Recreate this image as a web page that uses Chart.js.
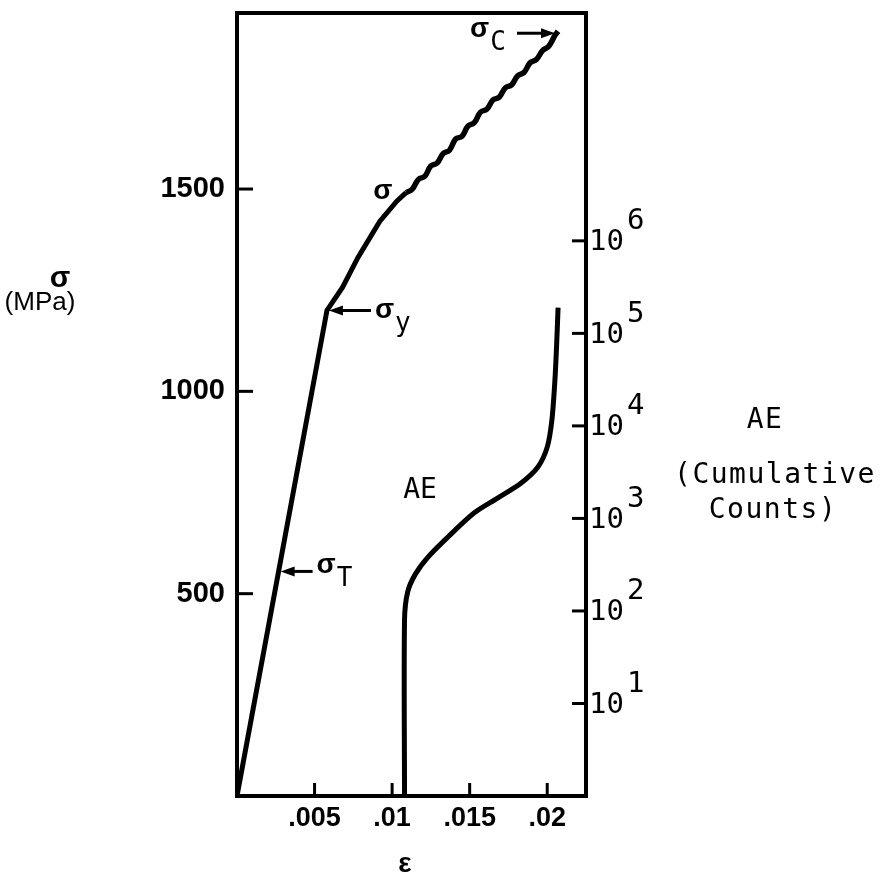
<!DOCTYPE html>
<html>
<head>
<meta charset="utf-8">
<script src="https://cdn.jsdelivr.net/npm/chart.js@4/dist/chart.umd.min.js"></script>
<style>
  html, body { margin: 0; padding: 0; background: #fff; }
</style>
</head>
<body>
<canvas id="chart" width="886" height="881"></canvas>
<script>
// stress-strain curve: elastic line, yield knee, then serrated hardening up to sigma_c
const sigmaStrain = [0, 0.0058, 0.0068, 0.0078, 0.0092, 0.0103, 0.0109, 0.0113, 0.0117, 0.0121,
  0.0125, 0.0129, 0.0133, 0.0137, 0.0141, 0.0145, 0.0149, 0.0153, 0.0157, 0.0161, 0.0165,
  0.0169, 0.0173, 0.0177, 0.0181, 0.0185, 0.0189, 0.0193, 0.0197, 0.0201, 0.0205, 0.0207];
const sigmaStress = [0, 1200, 1257, 1331, 1420, 1470, 1491, 1500, 1524, 1531,
  1557, 1564, 1588, 1596, 1624, 1630, 1656, 1664, 1690, 1697, 1720,
  1727, 1750, 1757, 1780, 1788, 1812, 1820, 1842, 1853, 1880, 1890];
const serrationStart = 6; // index where the wavy part begins

// cumulative acoustic emission counts (log axis)
const aeStrain = [0.0108, 0.0108, 0.0110, 0.0115, 0.0123, 0.0136, 0.0153, 0.0168,
  0.0183, 0.0194, 0.0200, 0.0203, 0.0205, 0.0206, 0.0207];
const aeCounts = [1, 80, 160, 250, 380, 630, 1150, 1660,
  2400, 3600, 5900, 11500, 32000, 71000, 190000];

const strainTicks = [0.005, 0.01, 0.015, 0.02];
const strainLabels = ['.005', '.01', '.015', '.02'];
const stressTicks = [500, 1000, 1500];
const countTicks = [1e1, 1e2, 1e3, 1e4, 1e5, 1e6];
const countExponents = ['1', '2', '3', '4', '5', '6'];

const tickFont = { family: "'Liberation Sans', Arial, sans-serif", weight: 'bold', size: 29 };
const monoFont = "'DejaVu Sans Mono', monospace";

const sigmaPoints = sigmaStrain.map((e, i) => ({ x: e, y: sigmaStress[i] }));

function arrow(ctx, x1, y, x2) {
  // line from x1 to x2 with head at x2
  const dir = x2 > x1 ? 1 : -1;
  ctx.beginPath();
  ctx.moveTo(x1, y);
  ctx.lineTo(x2 - dir * 8, y);
  ctx.lineWidth = 3;
  ctx.stroke();
  ctx.beginPath();
  ctx.moveTo(x2, y);
  ctx.lineTo(x2 - dir * 14, y - 5);
  ctx.lineTo(x2 - dir * 14, y + 5);
  ctx.closePath();
  ctx.fill();
}

const decorations = {
  id: 'decorations',
  afterDraw(chart) {
    const { ctx, chartArea: a, scales } = chart;
    const xs = scales.x, ys = scales.y, ls = scales.ae;
    ctx.save();
    ctx.strokeStyle = '#000';
    ctx.fillStyle = '#000';
    ctx.lineCap = 'butt';

    // frame
    ctx.lineWidth = 4;
    ctx.strokeRect(a.left, a.top, a.right - a.left, a.bottom - a.top);

    // inward tick marks
    ctx.lineWidth = 3;
    stressTicks.forEach(v => {
      const p = ys.getPixelForValue(v);
      ctx.beginPath(); ctx.moveTo(a.left, p); ctx.lineTo(a.left + 16, p); ctx.stroke();
    });
    strainTicks.forEach(v => {
      const p = xs.getPixelForValue(v);
      ctx.beginPath(); ctx.moveTo(p, a.bottom); ctx.lineTo(p, a.bottom - 13); ctx.stroke();
    });
    countTicks.forEach(v => {
      const p = ls.getPixelForValue(v);
      ctx.beginPath(); ctx.moveTo(a.right - 14, p); ctx.lineTo(a.right + 2, p); ctx.stroke();
    });

    // right axis labels 10^n
    ctx.textBaseline = 'middle';
    ctx.textAlign = 'left';
    countTicks.forEach((v, i) => {
      const p = ls.getPixelForValue(v);
      ctx.font = '29px ' + monoFont;
      ctx.fillText('10', a.right + 3, p + 2);
      ctx.fillText(countExponents[i], a.right + 41, p - 19);
    });

    // axis titles
    ctx.textAlign = 'center';
    ctx.font = 'bold 30px ' + tickFont.family;
    ctx.fillText('\u03c3', 60, 279);
    ctx.font = '26px ' + tickFont.family;
    ctx.fillText('(MPa)', 40, 303);

    ctx.font = 'bold 28px ' + tickFont.family;
    ctx.fillText('\u03b5', 405, 864);

    ctx.font = '28px ' + monoFont;
    ctx.letterSpacing = '1.5px';
    ctx.fillText('AE', 765, 421);
    ctx.fillText('(Cumulative', 775, 476);
    ctx.fillText('Counts)', 773, 511);
    ctx.letterSpacing = '0px';

    // curve annotations
    const sub = (main, s, x, y) => {
      ctx.textAlign = 'left';
      ctx.font = 'bold 28px ' + tickFont.family;
      ctx.fillText(main, x, y);
      const w = ctx.measureText(main).width;
      ctx.font = '26px ' + monoFont;
      ctx.fillText(s, x + w + 1, y + 14);
    };

    // sigma_c at the end of the curve
    const cx = xs.getPixelForValue(0.0205), cy = ys.getPixelForValue(1885);
    sub('\u03c3', 'C', cx - 85, cy - 4);
    arrow(ctx, cx - 38, cy, cx);

    // sigma label beside the curve
    ctx.font = 'bold 28px ' + tickFont.family;
    ctx.textAlign = 'center';
    ctx.fillText('\u03c3', xs.getPixelForValue(0.0094), ys.getPixelForValue(1495));

    // sigma_y at the yield knee
    const yx = xs.getPixelForValue(0.0058), yy = ys.getPixelForValue(1200);
    arrow(ctx, yx + 44, yy, yx + 2);
    sub('\u03c3', 'y', yx + 48, yy);

    // sigma_T on the elastic line
    const tv = 555;
    const tx = xs.getPixelForValue(0.0058 * tv / 1200), ty = ys.getPixelForValue(tv);
    arrow(ctx, tx + 34, ty, tx + 2);
    sub('\u03c3', 'T', tx + 38, ty - 6);

    // AE label
    ctx.textAlign = 'center';
    ctx.font = '28px ' + monoFont;
    ctx.fillText('AE', xs.getPixelForValue(0.0118), ys.getPixelForValue(755));

    ctx.restore();
  }
};

new Chart(document.getElementById('chart'), {
  type: 'scatter',
  data: {
    datasets: [
      {
        label: 'sigma elastic',
        data: sigmaPoints.slice(0, serrationStart + 1),
        yAxisID: 'y',
        showLine: true,
        borderColor: '#000',
        borderWidth: 5,
        pointRadius: 0,
        tension: 0
      },
      {
        label: 'sigma serrated',
        data: sigmaPoints.slice(serrationStart),
        yAxisID: 'y',
        showLine: true,
        borderColor: '#000',
        borderWidth: 5.5,
        pointRadius: 0,
        tension: 0.4
      },
      {
        label: 'AE',
        data: aeStrain.map((e, i) => ({ x: e, y: aeCounts[i] })),
        yAxisID: 'ae',
        showLine: true,
        borderColor: '#000',
        borderWidth: 5,
        pointRadius: 0,
        tension: 0.3
      }
    ]
  },
  options: {
    responsive: false,
    animation: false,
    layout: { padding: { top: 13, left: 0, right: 0, bottom: 0 } },
    plugins: { legend: { display: false }, tooltip: { enabled: false } },
    scales: {
      x: {
        type: 'linear',
        min: 0,
        max: 0.0225,
        afterBuildTicks: s => { s.ticks = strainTicks.map(v => ({ value: v })); },
        afterFit: s => { s.height = 85; s.paddingLeft = 0; s.paddingRight = 0; },
        ticks: {
          callback: v => strainLabels[strainTicks.indexOf(v)],
          font: { ...tickFont, size: 27 },
          color: '#000',
          padding: 6,
          maxRotation: 0,
          autoSkip: false
        },
        grid: { display: false, drawTicks: false },
        border: { display: false }
      },
      y: {
        type: 'linear',
        position: 'left',
        min: 0,
        max: 1935,
        afterBuildTicks: s => { s.ticks = stressTicks.map(v => ({ value: v })); },
        afterFit: s => { s.width = 237; s.paddingTop = 0; s.paddingBottom = 0; },
        ticks: { callback: v => String(v), font: tickFont, color: '#000', padding: 12 },
        grid: { display: false, drawTicks: false },
        border: { display: false }
      },
      ae: {
        type: 'logarithmic',
        position: 'right',
        min: 1,
        max: 2.9e8,
        afterBuildTicks: s => { s.ticks = countTicks.map(v => ({ value: v })); },
        afterFit: s => { s.width = 300; s.paddingTop = 0; s.paddingBottom = 0; },
        ticks: { display: false },
        grid: { display: false, drawTicks: false },
        border: { display: false }
      }
    }
  },
  plugins: [decorations]
});
</script>
</body>
</html>
